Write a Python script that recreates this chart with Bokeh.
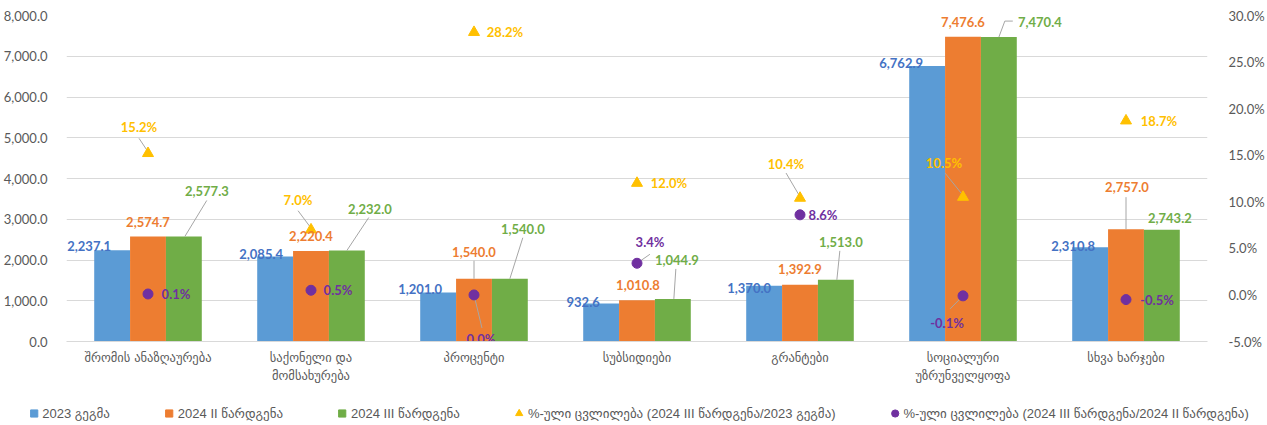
from bokeh.plotting import figure
from bokeh.models import (Range1d, LinearAxis, FixedTicker, NumeralTickFormatter,
                          Legend, LegendItem, ColumnDataSource)
from bokeh.core.properties import value
from bokeh.embed import file_html
from bokeh.resources import INLINE

# ---------------- data ----------------
categories = ["შრომის ანაზღაურება", "საქონელი და\nმომსახურება", "პროცენტი", "სუბსიდიები",
              "გრანტები", "სოციალური\nუზრუნველყოფა", "სხვა ხარჯები"]
plan_2023 = [2237.1, 2085.4, 1201.0, 932.6, 1370.0, 6762.9, 2310.8]
sub_2024_II = [2574.7, 2220.4, 1540.0, 1010.8, 1392.9, 7476.6, 2757.0]
sub_2024_III = [2577.3, 2232.0, 1540.0, 1044.9, 1513.0, 7470.4, 2743.2]
chg_III_vs_2023 = [0.152, 0.070, 0.282, 0.120, 0.104, 0.105, 0.187]
chg_III_vs_II = [0.001, 0.005, 0.000, 0.034, 0.086, -0.001, -0.005]
series_names = ["2023 გეგმა", "2024 II წარდგენა", "2024 III წარდგენა",
                "%-ული ცვლილება (2024 III წარდგენა/2023 გეგმა)",
                "%-ული ცვლილება (2024 III წარდგენა/2024 II წარდგენა)"]
left_ticks = [0, 1000, 2000, 3000, 4000, 5000, 6000, 7000, 8000]
right_ticks = [-0.05, 0.0, 0.05, 0.10, 0.15, 0.20, 0.25, 0.30]

# ---------------- style ----------------
BAR_COLORS = ["#5B9BD5", "#ED7D31", "#70AD47"]
LABEL_COLORS = ["#4472C4", "#ED7D31", "#70AD47"]
TRI_COLOR = "#FFC000"
DOT_COLOR = "#7030A0"
GRID = "#D9D9D9"
TXT = "#595959"
NUM_FONT = "Lato, 'DejaVu Sans'"
GEO_FONT = "'DejaVu Sans', Lato"
LEG_FONT = "'Liberation Sans', 'DejaVu Sans'"

W, H = 1267, 385
BL, BR, BT, BB = 64, 57, 15, 44
FW, FH = W - BL - BR, H - BT - BB
X0, X1 = -0.5, 6.5
PX_X = FW / (X1 - X0)
PX_YL = FH / 8000.0
PX_YR = FH / 0.35

BAR_W = 0.22
OFFS = [-0.22, 0.0, 0.22]

# label offsets (px, y down) relative to anchor
bar_lbl_off = [
    [(-23, -4), (-14, -3), (-18, -4), (-18, -1), (-15, 2), (-26, -3), (-17, -1)],
    [(0, -15), (0, -15), (0, -27), (1, -15), (0, -16), (0, -15), (1, -42)],
    [(23, -45), (23, -42), (13, -50), (4, -39), (5, -38), (41, -15), (8, -12)],
]
tri_lbl_off = [(-9, -26), (-13, -30), (31, 0), (32, 0), (-14, -34), (-19, -34), (33, 0)]
dot_lbl_off = [(28, 0), (27, 0), (7, 44), (13, -21), (23, 0), (-16, 27), (31, 0)]

# leader lines: (series, index, points in px relative to anchor)
leaders = [
    ("b2", 0, [(1, 0), (23, -36)]),
    ("b2", 1, [(0, 0), (22, -33)]),
    ("b2", 2, [(0, 0), (13, -41)]),
    ("b2", 3, [(1, 0), (3, -30)]),
    ("b2", 4, [(1, 0), (4, -29)]),
    ("b2", 5, [(0, 0), (6, -16), (14, -16)]),
    ("b1", 2, [(0, 0), (0, -18)]),
    ("b1", 6, [(0, 0), (0, -32)]),
    ("tri", 0, [(-9, -15), (-1, -3)]),
    ("tri", 1, [(-13, -19), (-1, -3)]),
    ("tri", 4, [(-14, -25), (-1, -3)]),
    ("tri", 5, [(-18, -24), (-1, -3)]),
    ("dot", 2, [(0, 0), (8, 33)]),
    ("dot", 3, [(0, 0), (13, -9)]),
    ("dot", 5, [(0, 0), (-13, 13)]),
]

bars = [plan_2023, sub_2024_II, sub_2024_III]
xs = list(range(len(categories)))

p = figure(width=W, height=H, x_range=Range1d(X0, X1), y_range=Range1d(0, 8000),
           output_backend="svg", toolbar_location=None,
           min_border_left=BL, min_border_right=BR, min_border_top=BT, min_border_bottom=BB)
p.extra_y_ranges = {"pct": Range1d(-0.05, 0.30)}
p.outline_line_color = None
p.background_fill_color = "white"
p.border_fill_color = "white"

p.xgrid.visible = False
p.ygrid.grid_line_color = GRID
p.ygrid.ticker = FixedTicker(ticks=left_ticks)

# axes
xa = p.xaxis[0]
xa.ticker = FixedTicker(ticks=xs)
xa.major_label_overrides = {i: c for i, c in enumerate(categories)}
xa.axis_line_color = GRID
xa.major_tick_line_color = None
xa.minor_tick_line_color = None
xa.major_label_text_font = GEO_FONT
xa.major_label_text_font_size = "12.5px"
xa.major_label_text_color = TXT
xa.major_label_standoff = 2

ya = p.yaxis[0]
ya.ticker = FixedTicker(ticks=left_ticks)
ya.formatter = NumeralTickFormatter(format="0,0.0")
ya.axis_line_color = None
ya.major_tick_line_color = None
ya.minor_tick_line_color = None
ya.major_label_text_font = NUM_FONT
ya.major_label_text_font_size = "13px"
ya.major_label_text_color = TXT
ya.major_label_standoff = 13

ra = LinearAxis(y_range_name="pct", ticker=FixedTicker(ticks=right_ticks),
                formatter=NumeralTickFormatter(format="0.0%"))
ra.axis_line_color = None
ra.major_tick_line_color = None
ra.minor_tick_line_color = None
ra.major_label_text_font = NUM_FONT
ra.major_label_text_font_size = "13px"
ra.major_label_text_color = TXT
ra.major_label_standoff = 15
p.add_layout(ra, "right")

# bars
for k in range(3):
    src = ColumnDataSource(dict(x=[x + OFFS[k] for x in xs], top=bars[k]))
    p.vbar(x="x", top="top", width=BAR_W, bottom=0, source=src,
           fill_color=BAR_COLORS[k], line_color=None)

# leader lines
def anchor(series, i):
    if series == "tri":
        return xs[i], chg_III_vs_2023[i], PX_YR
    if series == "dot":
        return xs[i], chg_III_vs_II[i], PX_YR
    k = int(series[1])
    return xs[i] + OFFS[k], bars[k][i], PX_YL

lx_l, ly_l, lx_r, ly_r = [], [], [], []
for series, i, pts in leaders:
    ax, ay, sy = anchor(series, i)
    lx = [ax + dx / PX_X for dx, dy in pts]
    ly = [ay - dy / sy for dx, dy in pts]
    if sy is PX_YR:
        lx_r.append(lx); ly_r.append(ly)
    else:
        lx_l.append(lx); ly_l.append(ly)
p.multi_line(xs=lx_l, ys=ly_l, line_color="#A6A6A6", line_width=1)
p.multi_line(xs=lx_r, ys=ly_r, line_color="#A6A6A6", line_width=1, y_range_name="pct")

# markers
p.scatter(x=xs, y=chg_III_vs_2023, marker="triangle", size=11,
          fill_color=TRI_COLOR, line_color=TRI_COLOR, y_range_name="pct")
p.scatter(x=xs, y=chg_III_vs_II, marker="circle", size=10,
          fill_color=DOT_COLOR, line_color=DOT_COLOR, y_range_name="pct")

# bar labels
bx, by, bt, bdx, bdy, bc = [], [], [], [], [], []
for k in range(3):
    for i in xs:
        bx.append(xs[i] + OFFS[k]); by.append(bars[k][i])
        bt.append(f"{bars[k][i]:,.1f}")
        bdx.append(bar_lbl_off[k][i][0]); bdy.append(bar_lbl_off[k][i][1])
        bc.append(LABEL_COLORS[k])
p.text(x="x", y="y", text="t", x_offset="dx", y_offset="dy", text_color="c",
       source=ColumnDataSource(dict(x=bx, y=by, t=bt, dx=bdx, dy=bdy, c=bc)),
       text_font=value(NUM_FONT), text_font_size="13px", text_font_style="bold",
       text_align="center", text_baseline="middle")

# pct labels
px_, py_, pt_, pdx, pdy, pc = [], [], [], [], [], []
for vals, offs, col in [(chg_III_vs_2023, tri_lbl_off, TRI_COLOR), (chg_III_vs_II, dot_lbl_off, DOT_COLOR)]:
    for i in xs:
        px_.append(xs[i]); py_.append(vals[i])
        pt_.append(f"{vals[i]*100:.1f}%")
        pdx.append(offs[i][0]); pdy.append(offs[i][1]); pc.append(col)
p.text(x="x", y="y", text="t", x_offset="dx", y_offset="dy", text_color="c",
       source=ColumnDataSource(dict(x=px_, y=py_, t=pt_, dx=pdx, dy=pdy, c=pc)),
       text_font=value(NUM_FONT), text_font_size="13px", text_font_style="bold",
       text_align="center", text_baseline="middle", y_range_name="pct")

# ---------------- legend figure (separate root, no frame alignment) ----------------
LH = 40
pl = figure(width=W, height=LH, x_range=Range1d(0, 1), y_range=Range1d(0, 1),
            output_backend="svg", toolbar_location=None,
            x_axis_location=None, y_axis_location=None,
            min_border_left=6, min_border_right=0, min_border_top=16, min_border_bottom=0)
pl.outline_line_color = None
pl.grid.visible = False
pl.background_fill_color = "white"
pl.border_fill_color = "white"
leg_rs = []
leg_markers = ["square", "square", "square", "triangle", "circle"]
leg_colors = BAR_COLORS + [TRI_COLOR, DOT_COLOR]
for mk, col in zip(leg_markers, leg_colors):
    leg_rs.append(pl.scatter(x=[-10], y=[-10], marker=mk, fill_color=col, line_color=col))
legend = Legend(items=[LegendItem(label=n, renderers=[r]) for n, r in zip(series_names, leg_rs)],
                orientation="horizontal", location="center",
                glyph_width=18, glyph_height=18, label_standoff=0, spacing=50,
                padding=0, margin=0, border_line_color=None, background_fill_alpha=0,
                label_text_font=LEG_FONT, label_text_font_size="13px", label_text_color=TXT,
                label_height=18)
pl.add_layout(legend, "center")

open("out.html", "w").write(file_html([p, pl], INLINE))
